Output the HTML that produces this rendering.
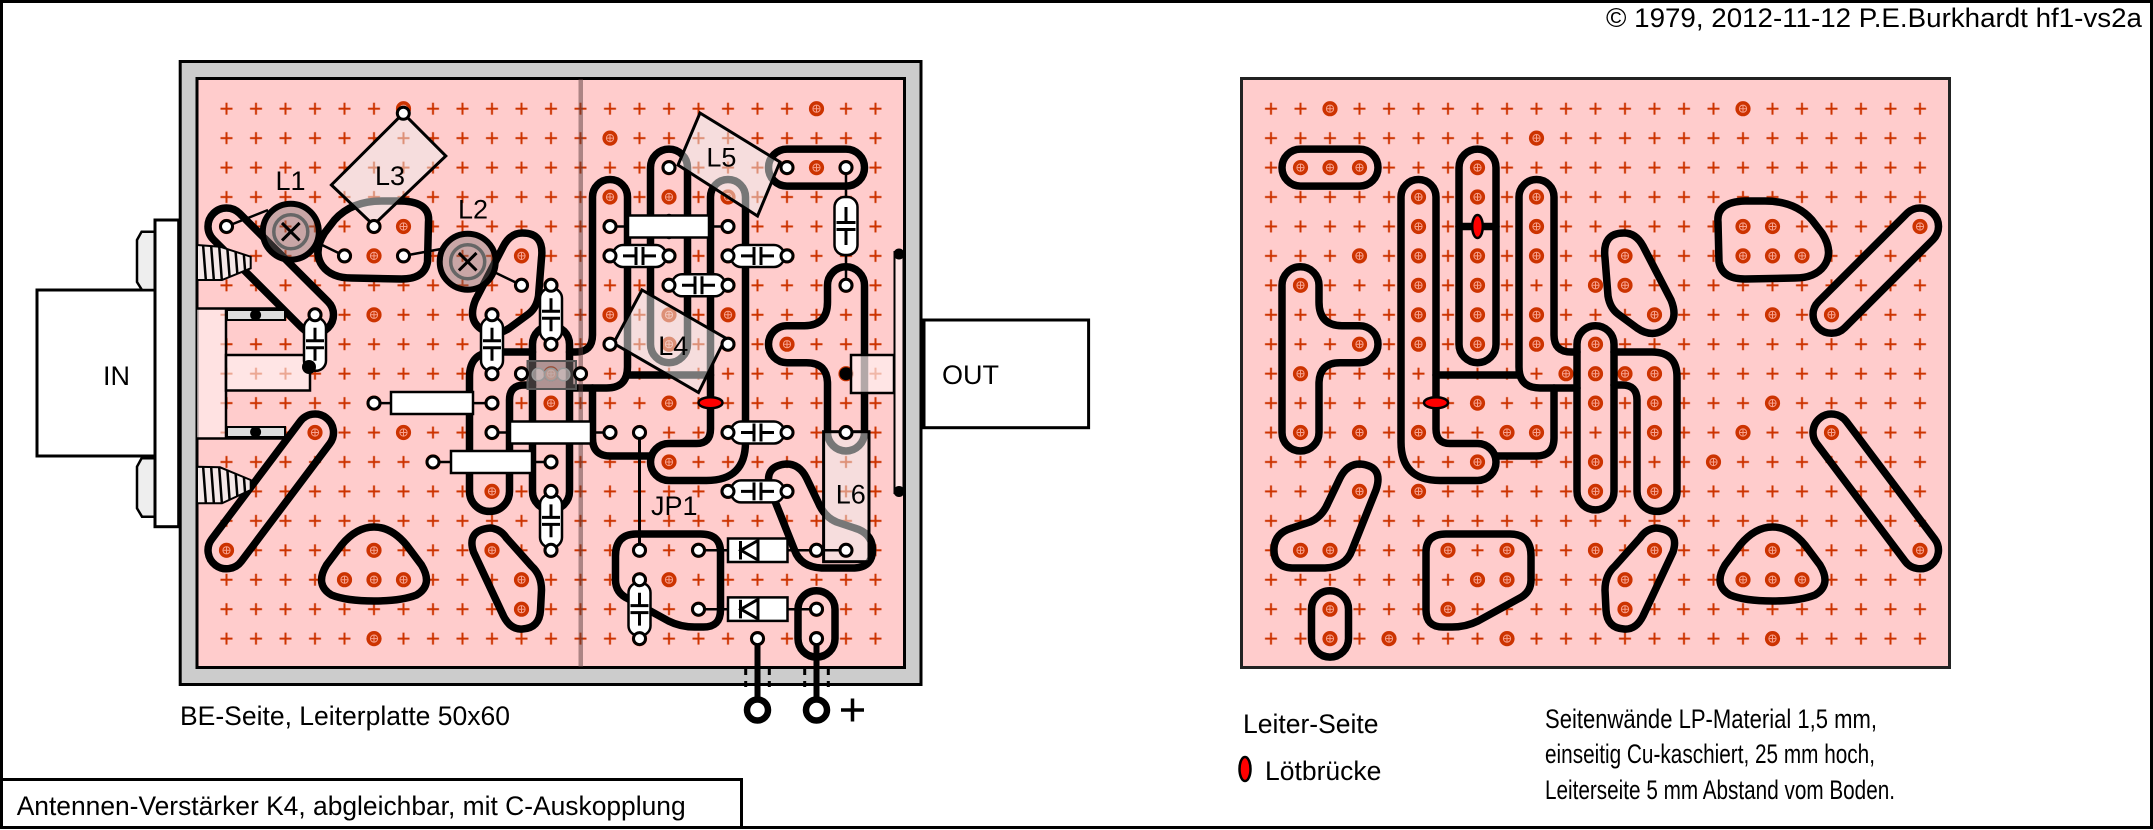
<!DOCTYPE html>
<html>
<head>
<meta charset="utf-8">
<style>
body{margin:0;background:#fff}
svg{display:block}
.ld{fill:#fff;stroke:#000;stroke-width:3}
.bd{fill:#fff;stroke:#000;stroke-width:2.5}
.tl{stroke:#000;stroke-width:2.5;fill:none}
.pl{stroke:#000;stroke-width:3;fill:none}
.lb{fill:rgba(238,238,238,0.5);stroke:#000;stroke-width:3}
text{font-family:"Liberation Sans",Arial,sans-serif;fill:#000}
</style>
</head>
<body>
<svg width="2153" height="830" viewBox="0 0 2153 830" xmlns="http://www.w3.org/2000/svg" xmlns:xlink="http://www.w3.org/1999/xlink">
<defs>
<pattern id="cr1" x="211.75" y="93.98" width="29.5" height="29.44" patternUnits="userSpaceOnUse">
<path d="M8.75,14.72H20.75M14.75,8.72V20.72" stroke="#cc3300" stroke-width="2"/>
</pattern>
<pattern id="cr2" x="1256.25" y="93.98" width="29.5" height="29.44" patternUnits="userSpaceOnUse">
<path d="M8.75,14.72H20.75M14.75,8.72V20.72" stroke="#cc3300" stroke-width="2"/>
</pattern>
<g id="pd"><circle r="7.6" fill="#cc3300"/><circle r="3.6" fill="none" stroke="#f7a08c" stroke-width="1"/><path d="M-3.6,0H3.6M0,-3.6V3.6" stroke="#f7a08c" stroke-width="1"/></g>
<g id="pads">
<use href="#pd" x="1330" y="108.7"/><use href="#pd" x="1743" y="108.7"/>
<use href="#pd" x="1536.5" y="138.1"/>
<use href="#pd" x="1300.5" y="167.6"/><use href="#pd" x="1330" y="167.6"/><use href="#pd" x="1359.5" y="167.6"/><use href="#pd" x="1477.5" y="167.6"/>
<use href="#pd" x="1418.5" y="197"/><use href="#pd" x="1477.5" y="197"/><use href="#pd" x="1536.5" y="197"/>
<use href="#pd" x="1418.5" y="226.5"/><use href="#pd" x="1536.5" y="226.5"/><use href="#pd" x="1743" y="226.5"/><use href="#pd" x="1772.5" y="226.5"/><use href="#pd" x="1920" y="226.5"/>
<use href="#pd" x="1359.5" y="255.9"/><use href="#pd" x="1418.5" y="255.9"/><use href="#pd" x="1477.5" y="255.9"/><use href="#pd" x="1536.5" y="255.9"/><use href="#pd" x="1625" y="255.9"/><use href="#pd" x="1743" y="255.9"/><use href="#pd" x="1772.5" y="255.9"/><use href="#pd" x="1802" y="255.9"/>
<use href="#pd" x="1300.5" y="285.3"/><use href="#pd" x="1418.5" y="285.3"/><use href="#pd" x="1477.5" y="285.3"/><use href="#pd" x="1595.5" y="285.3"/><use href="#pd" x="1625" y="285.3"/>
<use href="#pd" x="1418.5" y="314.8"/><use href="#pd" x="1477.5" y="314.8"/><use href="#pd" x="1536.5" y="314.8"/><use href="#pd" x="1654.5" y="314.8"/><use href="#pd" x="1772.5" y="314.8"/><use href="#pd" x="1831.5" y="314.8"/>
<use href="#pd" x="1359.5" y="344.2"/><use href="#pd" x="1418.5" y="344.2"/><use href="#pd" x="1477.5" y="344.2"/><use href="#pd" x="1536.5" y="344.2"/><use href="#pd" x="1595.5" y="344.2"/>
<use href="#pd" x="1300.5" y="373.7"/><use href="#pd" x="1566" y="373.7"/><use href="#pd" x="1595.5" y="373.7"/><use href="#pd" x="1625" y="373.7"/><use href="#pd" x="1654.5" y="373.7"/>
<use href="#pd" x="1477.5" y="403.1"/><use href="#pd" x="1595.5" y="403.1"/><use href="#pd" x="1654.5" y="403.1"/><use href="#pd" x="1772.5" y="403.1"/>
<use href="#pd" x="1300.5" y="432.5"/><use href="#pd" x="1359.5" y="432.5"/><use href="#pd" x="1418.5" y="432.5"/><use href="#pd" x="1507" y="432.5"/><use href="#pd" x="1536.5" y="432.5"/><use href="#pd" x="1654.5" y="432.5"/><use href="#pd" x="1743" y="432.5"/><use href="#pd" x="1831.5" y="432.5"/>
<use href="#pd" x="1477.5" y="462"/><use href="#pd" x="1595.5" y="462"/><use href="#pd" x="1713.5" y="462"/>
<use href="#pd" x="1359.5" y="491.4"/><use href="#pd" x="1418.5" y="491.4"/><use href="#pd" x="1595.5" y="491.4"/><use href="#pd" x="1654.5" y="491.4"/>
<use href="#pd" x="1300.5" y="550.3"/><use href="#pd" x="1330" y="550.3"/><use href="#pd" x="1448" y="550.3"/><use href="#pd" x="1507" y="550.3"/><use href="#pd" x="1595.5" y="550.3"/><use href="#pd" x="1654.5" y="550.3"/><use href="#pd" x="1772.5" y="550.3"/><use href="#pd" x="1920" y="550.3"/>
<use href="#pd" x="1477.5" y="579.7"/><use href="#pd" x="1507" y="579.7"/><use href="#pd" x="1625" y="579.7"/><use href="#pd" x="1743" y="579.7"/><use href="#pd" x="1772.5" y="579.7"/><use href="#pd" x="1802" y="579.7"/>
<use href="#pd" x="1330" y="609.2"/><use href="#pd" x="1448" y="609.2"/><use href="#pd" x="1625" y="609.2"/>
<use href="#pd" x="1330" y="638.6"/><use href="#pd" x="1389" y="638.6"/><use href="#pd" x="1507" y="638.6"/><use href="#pd" x="1772.5" y="638.6"/>
</g>
<g id="cuts">
<g fill="none" stroke="#000" stroke-width="7.5" stroke-linejoin="round" stroke-linecap="round">
<rect x="1282" y="149.1" width="96" height="37" rx="18.5"/>
<rect x="1459" y="149.1" width="37" height="213.6" rx="18.5"/>
<path d="M1459,226.5H1496"/>
<path d="M1282,285.3A18.5,18.5 0 0 1 1319,285.3L1319,302Q1319,325.7 1342,325.7L1359.5,325.7A18.5,18.5 0 0 1 1359.5,362.7L1340,362.7Q1319,362.7 1319,384L1319,432.5A18.5,18.5 0 0 1 1282,432.5Z"/>
<path d="M1436,197A17.5,17.5 0 0 0 1401,197L1401,442Q1401,480.5 1440,480.5L1477.5,480.5A18.5,18.5 0 0 0 1477.5,443.5L1450,443.5Q1436,443.5 1436,429Z"/>
<path d="M1436,375H1519"/>
<path d="M1577,388L1540,388Q1519,388 1519,367L1519,197A17.5,17.5 0 0 1 1554,197L1554,335Q1554,352 1571,352L1577,352"/>
<path d="M1554,388L1554,438Q1554,456 1536,456L1495,456"/>
<rect x="1577" y="325.7" width="37" height="184.2" rx="18.5"/>
<path d="M1614,352L1652,352Q1677,352 1677,377L1677,491.4A20,20 0 0 1 1637,491.4L1637,400Q1637,385 1622,385L1614,385"/>
<path d="M1605,258Q1602,233 1624,233Q1636,233 1643,246L1671,300Q1680,322 1662,331Q1650,337 1637,328L1618,314Q1610,308 1608,296Z"/>
<path d="M1718,222Q1716,202 1745,201L1765,201Q1795,201 1812,220L1822,233Q1834,252 1824,266Q1815,278 1795,278L1745,279Q1722,279 1719,262Z"/>
<rect x="-18.5" y="-18.5" width="162" height="37" rx="18.5" transform="translate(1920,226.5) rotate(135.06)"/>
<rect x="-18.5" y="-18.5" width="184.3" height="37" rx="18.5" transform="translate(1831.5,432.5) rotate(53.09)"/>
<path d="M1772.5,527Q1790,527 1805,545L1820,565Q1832,585 1815,595Q1800,601 1772.5,601Q1745,601 1730,595Q1713,585 1725,565L1740,545Q1755,527 1772.5,527Z"/>
<path d="M1656,528Q1680,530 1673,552L1643,616Q1636,630 1624,629Q1607,628 1606,610L1605,590Q1605,575 1615,566L1640,538Q1646,529 1656,528Z"/>
<path d="M1360,464Q1384,466 1376,490L1352,550Q1346,567 1325,568L1292,568Q1273,567 1274,548Q1275,533 1292,528L1310,522Q1322,517 1328,503L1340,478Q1347,464 1360,464Z"/>
<rect x="1311.5" y="590.7" width="37" height="66.4" rx="18.5"/>
<path d="M1426,552Q1426,534 1446,534L1510,534Q1531,534 1531,556L1531,580Q1531,593 1518,599L1478,621Q1466,627 1452,627L1443,627Q1426,627 1426,610Z"/>
</g>
<ellipse cx="1477.5" cy="226.5" rx="5.3" ry="11.5" fill="#f00" stroke="#000" stroke-width="2.5"/>
<ellipse cx="1436" cy="402.7" rx="12" ry="5.5" fill="#f00" stroke="#000" stroke-width="2.5"/>
</g>
<clipPath id="th1"><polygon points="197,245 220,246.7 250.7,256.7 250.7,268.3 222,280 197,280"/></clipPath>
<clipPath id="th2"><polygon points="197,466.7 220,467.3 250.7,480 250.7,490 222,503.3 197,503.3"/></clipPath>
</defs>

<rect x="0" y="0" width="2153" height="830" fill="#fff"/>
<rect x="1.5" y="1.5" width="2150" height="826" fill="none" stroke="#000" stroke-width="3"/>

<!-- IN connector outside -->
<rect x="37" y="290" width="118" height="166" fill="#fff" stroke="#000" stroke-width="3"/>
<polygon points="155,231.7 141.6,231.7 137,240 137,282 142,290 155,290" fill="#eee" stroke="#000" stroke-width="2.5"/>
<polygon points="155,458.3 141.6,458.3 137,466.7 137,508.3 142,516.7 155,516.7" fill="#eee" stroke="#000" stroke-width="2.5"/>
<rect x="155" y="220" width="23.7" height="306.7" fill="#fff" stroke="#000" stroke-width="3"/>
<text x="103" y="385" font-size="27">IN</text>

<!-- OUT box -->
<rect x="924" y="320" width="164.6" height="107.7" fill="#fff" stroke="#000" stroke-width="3"/>
<text x="942" y="384" font-size="27">OUT</text>

<!-- left board -->
<rect x="180.2" y="61.5" width="740.8" height="623" fill="#ccc" stroke="#000" stroke-width="3"/>
<rect x="197" y="78.5" width="707.5" height="589" fill="#ffcccc" stroke="#000" stroke-width="3"/>
<rect x="211.75" y="93.98" width="678.5" height="559.36" fill="url(#cr1)"/>
<g transform="translate(2146.5,0) scale(-1,1)"><use href="#pads"/><use href="#cuts"/></g>
<rect x="578.5" y="79" width="4.5" height="588" fill="rgba(90,60,60,0.5)"/>

<!-- IN inner parts -->
<rect x="197" y="309" width="29" height="129" fill="rgba(255,240,240,0.6)"/>
<path d="M226,309V438" stroke="#000" stroke-width="2.5"/>
<path d="M197,308.5H285M197,438.5H285" stroke="#000" stroke-width="2.5"/>
<rect x="227" y="310" width="58" height="10" fill="#ddd" stroke="#000" stroke-width="2"/>
<circle cx="255.6" cy="315" r="5.5" fill="#000"/>
<rect x="227" y="427" width="58" height="10" fill="#ddd" stroke="#000" stroke-width="2"/>
<circle cx="255.6" cy="432" r="5.5" fill="#000"/>
<rect x="226" y="355" width="84" height="35.5" fill="rgba(255,245,245,0.6)" stroke="#000" stroke-width="2.5"/>
<polygon points="197,245 220,246.7 250.7,256.7 250.7,268.3 222,280 197,280" fill="#f4e8e8" stroke="#000" stroke-width="2"/>
<g clip-path="url(#th1)" stroke="#000" stroke-width="2.5"><path d="M203,244L206,282M211,244L214,282M219,244L222,282M227,244L230,282M235,244L238,282M243,244L246,282"/></g>
<polygon points="197,466.7 220,467.3 250.7,480 250.7,490 222,503.3 197,503.3" fill="#f4e8e8" stroke="#000" stroke-width="2"/>
<g clip-path="url(#th2)" stroke="#000" stroke-width="2.5"><path d="M203,465L206,505M211,465L214,505M219,465L222,505M227,465L230,505M235,465L238,505M243,465L246,505"/></g>

<!-- OUT inner -->
<rect x="851" y="355" width="43" height="38" fill="rgba(255,240,240,0.7)" stroke="#000" stroke-width="2.5"/>
<rect x="894.5" y="252" width="9" height="241" fill="#ffe4e4" stroke="#000" stroke-width="2"/>
<circle cx="899" cy="254" r="5.5" fill="#000"/>
<circle cx="899" cy="491.5" r="5.5" fill="#000"/>

<!-- coil bodies -->
<polygon class="lb" points="403.3,113.3 445.8,156 373.5,225 331.4,185"/>
<polygon class="lb" points="700,113 780,162 757.5,216 678,165"/>
<polygon class="lb" points="642,290 725.5,338 698.5,392.5 613.5,343.3"/>
<rect class="lb" x="823.6" y="431.7" width="45.4" height="130"/>

<!-- trimmers -->
<path d="M226.5,226.5L268,210M318,243L344.5,255.9M403.5,255.9L441,249M494,272L521.5,285.3" stroke="#000" stroke-width="2.5"/>
<circle cx="290.8" cy="231.7" r="28" fill="rgba(120,110,110,0.4)" stroke="#000" stroke-width="6"/>
<circle cx="290.8" cy="231.7" r="17" fill="none" stroke="#666" stroke-width="3.5"/>
<path d="M282,223L299.6,240.4M299.6,223L282,240.4" stroke="#000" stroke-width="3"/>
<circle cx="467.7" cy="261.7" r="28" fill="rgba(120,110,110,0.4)" stroke="#000" stroke-width="6"/>
<circle cx="467.7" cy="261.7" r="17" fill="none" stroke="#666" stroke-width="3.5"/>
<path d="M458.9,253L476.5,270.4M476.5,253L458.9,270.4" stroke="#000" stroke-width="3"/>

<!-- thin lines -->
<path class="tl" d="M374,403.1H492M492,432.5H610M433,462H551M610,226.5H728M698.5,550.3H846M698.5,609.2H816.5M846,167.6V197M846,255V285.3"/>
<path d="M639.5,432.5V550.3" stroke="#000" stroke-width="3"/>

<!-- resistors -->
<rect class="bd" x="391" y="392" width="82" height="22"/>
<rect class="bd" x="510" y="421.5" width="81" height="22"/>
<rect class="bd" x="451" y="451" width="81" height="22"/>
<rect class="bd" x="628" y="215.5" width="81" height="22"/>

<!-- diodes -->
<rect class="bd" x="728" y="538.5" width="59.5" height="23.5"/>
<path class="pl" d="M758,538.5V562M740.5,541V559.5M757,541L741,550.3L757,559.5"/>
<rect class="bd" x="728" y="597.4" width="59.5" height="23.5"/>
<path class="pl" d="M758,597.4V620.9M740.5,599.9V618.4M757,599.9L741,609.2L757,618.4"/>

<!-- capacitors horizontal -->
<rect class="bd" x="613" y="245" width="53" height="22" rx="10"/>
<path class="pl" d="M636,247V265M643,247V265M623,255.9H636M643,255.9H656"/>
<rect class="bd" x="731" y="245" width="53" height="22" rx="10"/>
<path class="pl" d="M754,247V265M761,247V265M741,255.9H754M761,255.9H774"/>
<rect class="bd" x="672" y="274.3" width="53" height="22" rx="10"/>
<path class="pl" d="M695,276.3V294.3M702,276.3V294.3M682,285.3H695M702,285.3H715"/>
<rect class="bd" x="731" y="421.5" width="53" height="22" rx="10"/>
<path class="pl" d="M754,423.5V441.5M761,423.5V441.5M741,432.5H754M761,432.5H774"/>
<rect class="bd" x="731" y="480.4" width="53" height="22" rx="10"/>
<path class="pl" d="M754,482.4V500.4M761,482.4V500.4M741,491.4H754M761,491.4H774"/>

<!-- capacitors vertical -->
<rect class="bd" x="304" y="317.8" width="22" height="53" rx="10"/>
<path class="pl" d="M306,340.75H324M306,347.75H324M315,327.8V340.75M315,347.75V360.7"/>
<rect class="bd" x="481" y="317.8" width="22" height="53" rx="10"/>
<path class="pl" d="M483,340.75H501M483,347.75H501M492,327.8V340.75M492,347.75V360.7"/>
<rect class="bd" x="540" y="288.3" width="22" height="53" rx="10"/>
<path class="pl" d="M542,311.25H560M542,318.25H560M551,298.3V311.25M551,318.25V331.2"/>
<rect class="bd" x="540" y="494.4" width="22" height="53" rx="10"/>
<path class="pl" d="M542,517.35H560M542,524.35H560M551,504.4V517.35M551,524.35V537.3"/>
<rect class="bd" x="628.5" y="582.7" width="22" height="53" rx="10"/>
<path class="pl" d="M630.5,605.65H648.5M630.5,612.65H648.5M639.5,592.7V605.65M639.5,612.65V625.6"/>
<rect class="bd" x="834.5" y="197" width="23" height="58" rx="10"/>
<path class="pl" d="M836.5,222.5H855.5M836.5,229.5H855.5M846,207V222.5M846,229.5V245"/>

<!-- transistor -->
<rect x="527.5" y="361" width="48.5" height="28" fill="rgba(110,100,100,0.55)" stroke="#555" stroke-width="2"/>
<circle cx="538.5" cy="374.5" r="6.3" fill="rgba(210,200,200,0.6)" stroke="#999" stroke-width="1.5"/>
<circle cx="551" cy="374.5" r="6.3" fill="rgba(210,200,200,0.6)" stroke="#999" stroke-width="1.5"/>
<circle cx="563.5" cy="374.5" r="6.3" fill="rgba(210,200,200,0.6)" stroke="#999" stroke-width="1.5"/>

<!-- supply wires and terminals -->
<path d="M757.5,638.6V700M816.5,638.6V700" stroke="#000" stroke-width="6"/>
<path d="M745.7,669V687M769.3,669V687M804.7,669V687M828.3,669V687" stroke="#000" stroke-width="3" stroke-dasharray="6 6"/>
<circle cx="757.5" cy="710" r="10.5" fill="#fff" stroke="#000" stroke-width="6.5"/>
<circle cx="816.5" cy="710" r="10.5" fill="#fff" stroke="#000" stroke-width="6.5"/>
<path d="M841,710H864M852.5,698.5V721.5" stroke="#000" stroke-width="3.5"/>

<!-- leads -->
<g class="ld">
<circle cx="226.5" cy="226.5" r="6"/><circle cx="344.5" cy="255.9" r="6"/><circle cx="403.5" cy="255.9" r="6"/><circle cx="374" cy="226.5" r="6"/><circle cx="403.3" cy="113.3" r="6"/>
<circle cx="521.5" cy="285.3" r="6"/><circle cx="315" cy="314.8" r="6"/><circle cx="492" cy="314.8" r="6"/><circle cx="492" cy="373.7" r="6"/>
<circle cx="551" cy="285.3" r="6"/><circle cx="551" cy="344.2" r="6"/><circle cx="521.5" cy="373.7" r="6"/><circle cx="580.5" cy="373.7" r="6"/>
<circle cx="374" cy="403.1" r="6"/><circle cx="492" cy="403.1" r="6"/><circle cx="492" cy="432.5" r="6"/><circle cx="610" cy="432.5" r="6"/>
<circle cx="433" cy="462" r="6"/><circle cx="551" cy="462" r="6"/><circle cx="551" cy="491.4" r="6"/><circle cx="551" cy="550.3" r="6"/>
<circle cx="610" cy="226.5" r="6"/><circle cx="728" cy="226.5" r="6"/><circle cx="610" cy="255.9" r="6"/><circle cx="669" cy="255.9" r="6"/>
<circle cx="728" cy="255.9" r="6"/><circle cx="787" cy="255.9" r="6"/><circle cx="669" cy="285.3" r="6"/><circle cx="728" cy="285.3" r="6"/>
<circle cx="669" cy="167.6" r="6"/><circle cx="787" cy="167.6" r="6"/><circle cx="846" cy="167.6" r="6"/><circle cx="846" cy="285.3" r="6"/>
<circle cx="610" cy="344.2" r="6"/><circle cx="728" cy="344.2" r="6"/><circle cx="639.5" cy="432.5" r="6"/><circle cx="639.5" cy="550.3" r="6"/>
<circle cx="728" cy="432.5" r="6"/><circle cx="787" cy="432.5" r="6"/><circle cx="728" cy="491.4" r="6"/><circle cx="787" cy="491.4" r="6"/>
<circle cx="846" cy="432.5" r="6"/><circle cx="846" cy="550.3" r="6"/><circle cx="698.5" cy="550.3" r="6"/><circle cx="816.5" cy="550.3" r="6"/>
<circle cx="698.5" cy="609.2" r="6"/><circle cx="816.5" cy="609.2" r="6"/><circle cx="639.5" cy="579.7" r="6"/><circle cx="639.5" cy="638.6" r="6"/>
<circle cx="757.5" cy="638.6" r="6"/><circle cx="816.5" cy="638.6" r="6"/>
</g>
<circle cx="309" cy="367" r="7" fill="#000"/>
<circle cx="846" cy="373.7" r="6.5" fill="#000"/>

<!-- labels -->
<text x="275.5" y="190" font-size="27">L1</text>
<text x="375" y="185" font-size="27">L3</text>
<text x="458" y="218.3" font-size="27">L2</text>
<text x="706.4" y="166.7" font-size="27">L5</text>
<text x="658.2" y="355" font-size="27">L4</text>
<text x="835.7" y="503.3" font-size="27">L6</text>
<text x="651" y="515" font-size="27">JP1</text>

<!-- right board -->
<rect x="1241.5" y="78.5" width="708" height="589" fill="#ffcccc" stroke="#222" stroke-width="3"/>
<rect x="1256.25" y="93.98" width="678.5" height="559.36" fill="url(#cr2)"/>
<use href="#pads"/>
<use href="#cuts"/>

<!-- texts -->
<text x="1606" y="27" font-size="26.5" textLength="536" lengthAdjust="spacingAndGlyphs">© 1979, 2012-11-12 P.E.Burkhardt hf1-vs2a</text>
<text x="180" y="725" font-size="26.5">BE-Seite, Leiterplatte 50x60</text>
<text x="1243" y="733" font-size="26.5">Leiter-Seite</text>
<ellipse cx="1245" cy="769" rx="5.5" ry="12" fill="#f00" stroke="#000" stroke-width="2.5"/>
<text x="1265" y="780" font-size="26.5">Lötbrücke</text>
<text x="1545" y="728" font-size="26.5" textLength="332" lengthAdjust="spacingAndGlyphs">Seitenwände LP-Material 1,5 mm,</text>
<text x="1545" y="763" font-size="26.5" textLength="330" lengthAdjust="spacingAndGlyphs">einseitig Cu-kaschiert, 25 mm hoch,</text>
<text x="1545" y="799" font-size="26.5" textLength="350" lengthAdjust="spacingAndGlyphs">Leiterseite 5 mm Abstand vom Boden.</text>
<rect x="1.5" y="779.5" width="740" height="48" fill="none" stroke="#000" stroke-width="3"/>
<text x="16.7" y="815" font-size="26.4">Antennen-Verstärker K4, abgleichbar, mit C-Auskopplung</text>
</svg>
</body>
</html>
